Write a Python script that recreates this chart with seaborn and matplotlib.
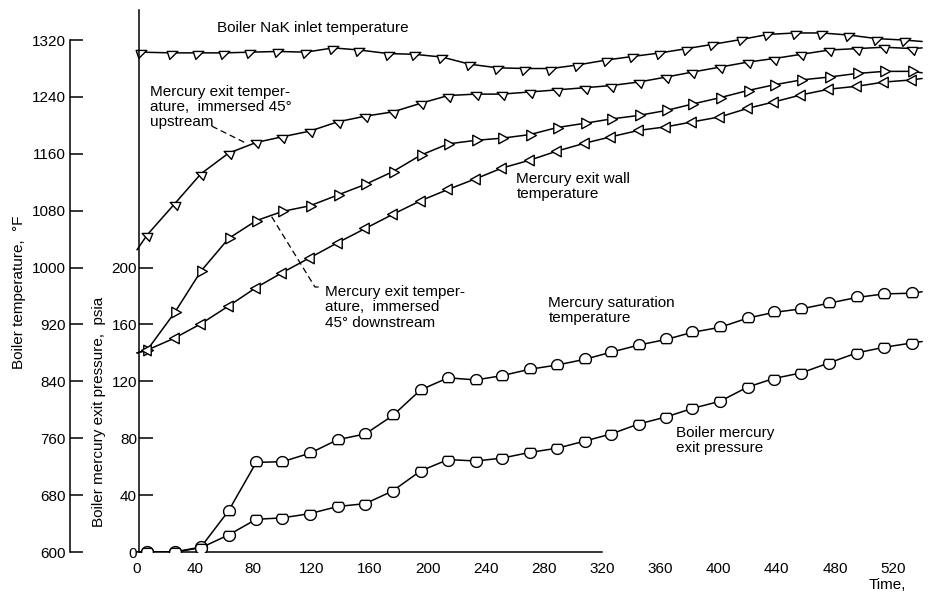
import numpy as np
import matplotlib
matplotlib.use("Agg")
import matplotlib.pyplot as plt
from matplotlib.path import Path
import seaborn as sns

# ---- data -------------------------------------------------------------
# time of each reading; first/last entries are where the faired curve starts/ends
time_s = [0, 7, 26, 44, 63, 82, 100, 119, 138, 157, 176, 195, 214, 233, 251,
          270, 289, 308, 326, 345, 364, 382, 401, 420, 438, 457, 476, 495, 514,
          533, 540]
nak_time_s = [0, 3, 24, 42, 60, 78, 97, 116, 135, 153, 173, 191, 210, 229, 248,
              267, 285, 303, 323, 341, 360, 378, 396, 416, 434, 453, 471, 490,
              509, 528, 540]

# temperatures, deg F
nak_inlet_f = [1303, 1303, 1302, 1302, 1302, 1303, 1304, 1303, 1309, 1306, 1301,
               1300, 1296, 1286, 1281, 1280, 1280, 1285, 1292, 1297, 1302, 1308,
               1314, 1321, 1328, 1330, 1330, 1327, 1322, 1320, 1318]
hg_exit_upstream_f = [1025, 1046, 1090, 1132, 1161, 1176, 1184, 1192, 1205, 1213,
                      1219, 1231, 1242, 1244, 1244, 1247, 1250, 1253, 1256, 1261,
                      1268, 1275, 1282, 1289, 1294, 1300, 1306, 1308, 1310, 1308,
                      1309]
hg_exit_downstream_f = [880, 884, 937, 995, 1041, 1066, 1079, 1087, 1102, 1117,
                        1135, 1158, 1174, 1179, 1182, 1187, 1197, 1203, 1209, 1214,
                        1221, 1230, 1239, 1249, 1257, 1264, 1268, 1273, 1276, 1276,
                        1274]
hg_exit_wall_f = [880, 884, 901, 921, 946, 972, 993, 1014, 1035, 1055, 1075, 1094,
                  1110, 1125, 1140, 1151, 1164, 1175, 1184, 1193, 1198, 1205, 1212,
                  1224, 1233, 1243, 1251, 1255, 1261, 1264, 1266]
hg_saturation_f = [600, 600, 600, 607, 658, 726, 727, 739, 758, 766, 792, 828, 845,
                   842, 848, 857, 863, 871, 881, 891, 899, 909, 916, 929, 937, 942,
                   950, 958, 963, 964, 966]

# pressure, psia
hg_exit_pressure_psia = [0, 0, 0, 3, 12, 23, 24, 27, 32, 34, 43, 57, 65, 64, 66, 70,
                         73, 78, 83, 90, 95, 101, 106, 116, 122, 126, 133, 140, 144,
                         147, 148]

temp_ticks = list(range(600, 1321, 80))
psia_ticks = list(range(0, 201, 40))
time_ticks = list(range(0, 521, 40))

# ---- style ------------------------------------------------------------
sns.set_style("white")
plt.rcParams["font.family"] = ["Liberation Sans", "DejaVu Sans"]
plt.rcParams["font.size"] = 11
plt.rcParams["text.color"] = "black"
plt.rcParams["axes.labelcolor"] = "black"
plt.rcParams["xtick.color"] = "black"
plt.rcParams["ytick.color"] = "black"


def poly_marker(pts):
    return Path(pts + [pts[0]], [Path.MOVETO] + [Path.LINETO] * (len(pts) - 1) + [Path.CLOSEPOLY])


def cut_circle(a0, a1):
    th = np.radians(np.linspace(a0, a1, 40))
    pts = [(float(np.cos(t)), float(np.sin(t))) for t in th]
    return poly_marker(pts)


mk_nak = poly_marker([(-0.9, 0.35), (0.9, 0.35), (-0.45, -1.0)])
mk_up = poly_marker([(-0.9, 0.35), (0.9, 0.35), (0.35, -1.0)])
mk_down = poly_marker([(-0.6, 0.85), (-0.6, -0.85), (0.95, 0.0)])
mk_wall = poly_marker([(0.6, 0.85), (0.6, -0.85), (-0.95, 0.0)])
mk_sat = cut_circle(-44.4, 224.4)      # flat bottom
mk_press = cut_circle(135.6, 404.4)    # flat top

W, H = 936, 596
fig = plt.figure(figsize=(W / 100, H / 100), dpi=100)
ax = fig.add_axes([70 / W, 44 / H, 860 / W, 542 / H])
t_lo, t_hi = -46.08, 545.4
f_lo, f_hi = 600.0, 1362.3
ax.set_xlim(t_lo, t_hi)
ax.set_ylim(f_lo, f_hi)

ax2 = ax.twinx()
ax2.set_ylim((f_lo - 600) / 2, (f_hi - 600) / 2)

line_kw = dict(color="black", linewidth=1.1, markersize=8.5, markerfacecolor="white",
               markeredgecolor="black", markeredgewidth=1.0, markevery=slice(1, -1),
               errorbar=None)

sns.lineplot(x=nak_time_s, y=nak_inlet_f, ax=ax, marker=mk_nak, **line_kw)
sns.lineplot(x=time_s, y=hg_exit_upstream_f, ax=ax, marker=mk_up, **line_kw)
sns.lineplot(x=time_s, y=hg_exit_downstream_f, ax=ax, marker=mk_down, **line_kw)
sns.lineplot(x=time_s, y=hg_exit_wall_f, ax=ax, marker=mk_wall, **line_kw)
sns.lineplot(x=time_s, y=hg_saturation_f, ax=ax, marker=mk_sat, **line_kw)
sns.lineplot(x=time_s, y=hg_exit_pressure_psia, ax=ax2, marker=mk_press, **line_kw)

# ---- axes -------------------------------------------------------------
for side in ("top", "right"):
    ax.spines[side].set_visible(False)
ax.spines["left"].set_bounds(600, 1320)
ax.spines["bottom"].set_bounds(0, 320)
for side in ("top", "right", "bottom"):
    ax2.spines[side].set_visible(False)
ax2.spines["left"].set_visible(True)
ax2.spines["left"].set_position(("axes", 69 / 860))
for sp in list(ax.spines.values()) + list(ax2.spines.values()):
    sp.set_linewidth(1.1)
    sp.set_color("black")

ax.set_yticks(temp_ticks)
ax.set_xticks(time_ticks)
ax.tick_params(axis="y", direction="in", length=9, width=1.1, pad=3, labelsize=11)
ax.tick_params(axis="x", direction="in", length=9.5, width=1.1, pad=7, labelsize=11)

ax2.yaxis.tick_left()
ax2.yaxis.set_label_position("left")
ax2.set_yticks(psia_ticks)
ax2.tick_params(axis="y", direction="in", length=10, width=1.1, pad=1.5, labelsize=11)

ax.set_ylabel("Boiler temperature,  \u00b0F", fontsize=11, va="center")
ax.yaxis.set_label_coords(-51 / 860, 260 / 542)
ax2.set_ylabel("Boiler mercury exit pressure,  psia", fontsize=11, va="center")
ax2.yaxis.set_label_coords(28.5 / 860, 140 / 542)
ax.set_xlabel("Time,", fontsize=11, va="center")
ax.xaxis.set_label_coords(817 / 860, -33 / 542)

# ---- curve labels -----------------------------------------------------
txt = dict(fontsize=11, ha="left", va="center", linespacing=1.1)
ax.text(55, 1337, "Boiler NaK inlet temperature", **txt)
ax.text(9, 1226, "Mercury exit temper-\nature,  immersed 45\u00b0\nupstream", **txt)
ax.text(129, 944, "Mercury exit temper-\nature,  immersed\n45\u00b0 downstream", **txt)
ax.text(261, 1114, "Mercury exit wall\ntemperature", **txt)
ax.text(283, 940, "Mercury saturation\ntemperature", **txt)
ax.text(371, 757, "Boiler mercury\nexit pressure", **txt)

lead = dict(color="black", linewidth=0.9, linestyle=(0, (5, 3)))
ax.plot([51.4, 75.0], [1199, 1175], **lead)
ax.plot([92.6, 122.4, 127.2], [1071.6, 972.7, 972.7], **lead)

fig.savefig("out.png", dpi=100)
